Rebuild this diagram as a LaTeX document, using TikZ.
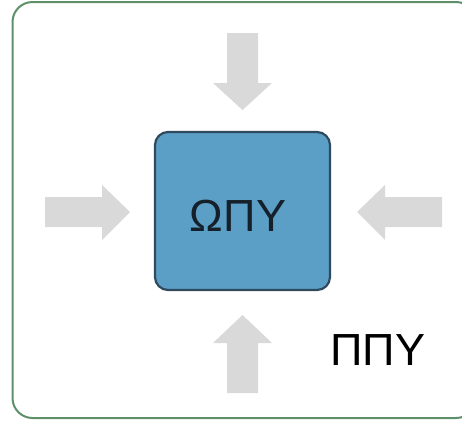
\documentclass[tikz,border=0pt]{standalone}
\usepackage{fontspec}
\setmainfont{Liberation Sans}
\definecolor{framegreen}{HTML}{5E9069}
\definecolor{arrowgray}{HTML}{D9D9D9}
\definecolor{boxblue}{HTML}{5B9FC6}
\definecolor{boxedge}{HTML}{2F4A5C}
\definecolor{textnavy}{HTML}{15202B}
\tikzset{
  frame/.style={draw=framegreen, line width=2pt, rounded corners=20pt},
  centerbox/.style={draw=boxedge, fill=boxblue, line width=2.2pt, rounded corners=13pt,
    minimum width=175pt, minimum height=158pt, inner sep=0pt},
  bigtext/.style={font=\fontsize{45}{50}\selectfont, inner sep=0pt},
  blockarrow/.style={fill=arrowgray, draw=none}
}
\begin{document}
\begin{tikzpicture}[x=1pt,y=-1pt]
\useasboundingbox (0,0) rectangle (462,421);
\fill[white] (0,0) rectangle (462,421);
\draw[frame] (12.5,2) rectangle (476,418);
\node[centerbox] (box) at (242.5,211) {};
\node[bigtext, text=textnavy] (omega) at (238,216) {ΩΠΥ};
\node[bigtext, text=black] (ppy) at (378,350) {ΠΠΥ};
% top arrow
\fill[blockarrow] (227,33) -- (258,33) -- (258,83) -- (272,83) -- (242.5,110) -- (213,83) -- (227,83) -- cycle;
% bottom arrow
\fill[blockarrow] (227,393) -- (258,393) -- (258,343) -- (272,343) -- (242.5,315) -- (213,343) -- (227,343) -- cycle;
% left arrow
\fill[blockarrow] (45,197) -- (45,227) -- (102,227) -- (102,240) -- (130,212) -- (102,185) -- (102,197) -- cycle;
% right arrow
\fill[blockarrow] (442,197) -- (442,227) -- (385,227) -- (385,240) -- (357,212) -- (385,185) -- (385,197) -- cycle;
\end{tikzpicture}
\end{document}
